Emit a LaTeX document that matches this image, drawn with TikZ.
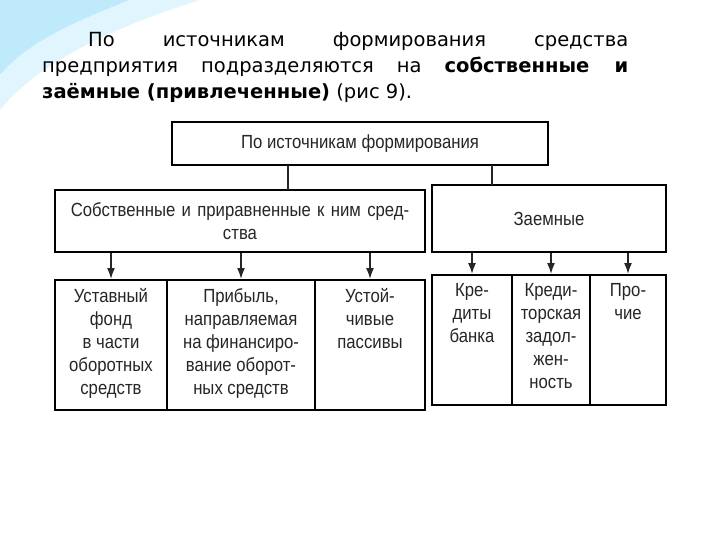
\documentclass[tikz,border=0pt]{standalone}
\usepackage{fontspec}
\setmainfont{DejaVu Sans}
\newfontfamily\diafont[FakeStretch=0.88]{Liberation Sans}
\usetikzlibrary{arrows.meta}
\begin{document}
\begin{tikzpicture}[x=1pt,y=-1pt,
  bx/.style={draw=black,line width=2pt,inner sep=0pt},
  lbl/.style={font=\diafont\fontsize{19}{23}\selectfont,align=center,text=black!85},
  ln/.style={line width=1.6pt,black!85},
  arr/.style={ln,-{Latex[length=11pt,width=8pt]}}]
\useasboundingbox (0,0) rectangle (720,540);
\fill[white] (0,0) rectangle (720,540);
% decoration
\fill[cyan!25] (0,0) -- (130,0) .. controls (80,20) and (30,40) .. (0,75) -- cycle;
\fill[cyan!12] (0,75) .. controls (30,40) and (80,20) .. (130,0) -- (200,0) .. controls (120,25) and (40,60) .. (0,110) -- cycle;
% paragraph
\node[anchor=base west,inner sep=0pt,font=\fontsize{19.5}{22}\selectfont] (p1) at (88,47) {\makebox[540pt][s]{По источникам формирования средства}};
\node[anchor=base west,inner sep=0pt,font=\fontsize{19.5}{22}\selectfont] (p2) at (42,73) {\makebox[586pt][s]{предприятия подразделяются на \textbf{собственные и}}};
\node[anchor=base west,inner sep=0pt,font=\fontsize{19.5}{22}\selectfont] (p3) at (42,99) {\textbf{заёмные (привлеченные)} (рис 9).};
% boxes
\node[bx,minimum width=376pt,minimum height=43pt] (top) at (360,143.5) {};
\node[lbl] at (top) {По источникам формирования};
\node[bx,minimum width=370pt,minimum height=62pt] (own) at (240,221) {};
\node[lbl,text width=360pt] at (own) {Собственные и приравненные к ним сред-\\ства};
\node[bx,minimum width=234pt,minimum height=67pt] (loan) at (549,218.5) {};
\node[lbl] at (loan) {Заемные};
\coordinate (t1) at (288,165); \coordinate (t2) at (492,165);
\draw[ln] (t1) -- (288,190); \draw[ln] (t2) -- (492,185);
% bottom boxes
\node[bx,minimum width=112pt,minimum height=130pt] (b1) at (111,345) {};
\node[bx,minimum width=148pt,minimum height=130pt] (b2) at (241,345) {};
\node[bx,minimum width=110pt,minimum height=130pt] (b3) at (370,345) {};
\node[bx,minimum width=80pt,minimum height=130pt] (b4) at (472,340) {};
\node[bx,minimum width=78pt,minimum height=130pt] (b5) at (551,340) {};
\node[bx,minimum width=76pt,minimum height=130pt] (b6) at (628,340) {};
\node[lbl,anchor=north] at (b1.north) [yshift=-6pt] {Уставный\\фонд\\в части\\оборотных\\средств};
\node[lbl,anchor=north] at (b2.north) [yshift=-6pt] {Прибыль,\\направляемая\\на финансиро-\\вание оборот-\\ных средств};
\node[lbl,anchor=north] at (b3.north) [yshift=-6pt] {Устой-\\чивые\\пассивы};
\node[lbl,anchor=north] at (b4.north) [yshift=-6pt] {Кре-\\диты\\банка};
\node[lbl,anchor=north] at (b5.north) [yshift=-6pt] {Креди-\\торская\\задол-\\жен-\\ность};
\node[lbl,anchor=north] at (b6.north) [yshift=-6pt] {Про-\\чие};
\draw[arr] (own.south -| b1.north) -- (b1.north);
\draw[arr] (own.south -| b2.north) -- (b2.north);
\draw[arr] (own.south -| b3.north) -- (b3.north);
\draw[arr] (loan.south -| b4.north) -- (b4.north);
\draw[arr] (loan.south -| b5.north) -- (b5.north);
\draw[arr] (loan.south -| b6.north) -- (b6.north);
\end{tikzpicture}
\end{document}
